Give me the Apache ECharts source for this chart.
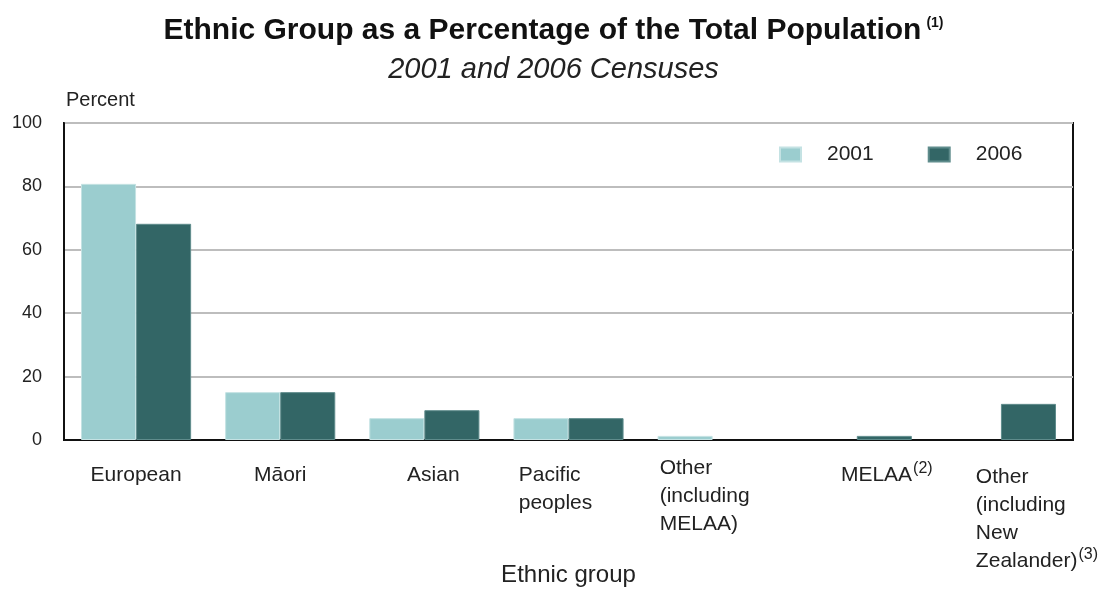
<!DOCTYPE html>
<html>
<head>
<meta charset="utf-8">
<script src="https://cdn.jsdelivr.net/npm/echarts@6/dist/echarts.min.js"></script>
<style>
html,body{margin:0;padding:0;background:#fff;}
#c{width:1107px;height:590px;}
</style>
</head>
<body>
<div id="c"></div>
<script>
// ---- data ----
const categories = ['European', 'Māori', 'Asian', 'Pacific\npeoples', 'Other\n(including\nMELAA)', 'MELAA', 'Other\n(including\nNew\nZealander)'];
const footnotes = ['', '', '', '', '', '(2)', '(3)'];
const seriesNames = ['2001', '2006'];
const values2001 = [80.8, 15.1, 6.9, 6.9, 1.3, null, null];
const values2006 = [68.2, 15.1, 9.4, 6.9, null, 1.3, 11.4];
const yTicks = [0, 20, 40, 60, 80, 100];

// ---- layout (style only) ----
const labelShiftX = [0, 0, 9, -13, -8, 30, 36];
const labelShiftY = [7, 7, 7, 7, 0, 7, 9];

const FONT = '"Liberation Sans", Arial, sans-serif';
const chart = echarts.init(document.getElementById('c'), null, {renderer: 'canvas', width: 1107, height: 590});

const xData = categories.map((c, i) => {
  const sx = labelShiftX[i];
  return {
    value: c,
    textStyle: {
      padding: [labelShiftY[i], sx < 0 ? -2 * sx : 0, 0, sx > 0 ? 2 * sx : 0]
    }
  };
});

chart.setOption({
  animation: false,
  backgroundColor: '#fff',
  title: [
    {
      text: '{t|Ethnic Group as a Percentage of the Total Population}{s|(1)}',
      left: 'center',
      top: 11,
      textStyle: {
        rich: {
          t: {fontFamily: FONT, fontWeight: 'bold', fontSize: 30, color: '#111'},
          s: {fontFamily: FONT, fontWeight: 'bold', fontSize: 14, color: '#111', verticalAlign: 'top', padding: [0, 0, 16, 5]}
        }
      }
    },
    {
      text: '2001 and 2006 Censuses',
      left: 'center',
      top: 50,
      textStyle: {fontFamily: FONT, fontStyle: 'italic', fontWeight: 'normal', fontSize: 29, color: '#222'}
    }
  ],
  legend: {
    data: seriesNames,
    left: 774,
    top: 139,
    icon: 'rect',
    itemWidth: 21,
    itemHeight: 14,
    itemGap: 54,
    textStyle: {fontFamily: FONT, fontSize: 21, lineHeight: 14, color: '#222', padding: [0, 0, 0, 21]}
  },
  grid: {
    left: 64, right: 34, top: 123, height: 317,
    show: true, borderColor: '#111', borderWidth: 2, backgroundColor: '#fff',
    containLabel: false,
    outerBoundsMode: 'none'
  },
  xAxis: {
    type: 'category',
    data: xData,
    name: 'Ethnic group',
    nameLocation: 'middle',
    nameGap: 123,
    nameMoveOverlap: false,
    nameTextStyle: {fontFamily: FONT, fontSize: 24, color: '#222'},
    axisLine: {show: true, lineStyle: {color: '#111', width: 2}},
    axisTick: {show: false},
    axisLabel: {
      interval: 0,
      margin: 14,
      verticalAlign: 'top',
      align: 'center',
      fontFamily: FONT,
      fontSize: 21,
      color: '#222',
      lineHeight: 28,
      formatter: function (v, idx) {
        const lines = v.split('\n');
        return lines.map((ln, k) => {
          let s = '{l|' + ln + '}';
          if (k === lines.length - 1 && footnotes[idx]) s += '{sup|' + footnotes[idx] + '}';
          return s;
        }).join('\n');
      },
      rich: {
        l: {fontFamily: FONT, fontSize: 21, color: '#222', align: 'left', lineHeight: 28},
        sup: {fontFamily: FONT, fontSize: 16, color: '#222', align: 'left', verticalAlign: 'top', lineHeight: 28, padding: [0, 0, 12, 1]}
      }
    }
  },
  yAxis: {
    type: 'value',
    min: yTicks[0],
    max: yTicks[yTicks.length - 1],
    interval: yTicks[1] - yTicks[0],
    name: 'Percent',
    nameLocation: 'end',
    nameGap: 13,
    nameMoveOverlap: false,
    nameTextStyle: {fontFamily: FONT, fontSize: 20, color: '#222', align: 'left', verticalAlign: 'bottom', padding: [0, 0, 0, 2]},
    axisLine: {show: true, lineStyle: {color: '#111', width: 2}},
    axisTick: {show: false},
    axisLabel: {fontFamily: FONT, fontSize: 18, color: '#222', margin: 22},
    splitLine: {show: true, lineStyle: {color: '#bdbdbd', width: 2}}
  },
  series: [
    {
      name: seriesNames[0],
      type: 'bar',
      data: values2001,
      barGap: '0%',
      barCategoryGap: '23.6%',
      itemStyle: {color: '#9bcdcf', borderColor: '#c4e2e3', borderWidth: 1}
    },
    {
      name: seriesNames[1],
      type: 'bar',
      data: values2006,
      barGap: '0%',
      barCategoryGap: '23.6%',
      itemStyle: {color: '#336666', borderColor: '#5f8c8c', borderWidth: 1}
    }
  ]
});
</script>
</body>
</html>
